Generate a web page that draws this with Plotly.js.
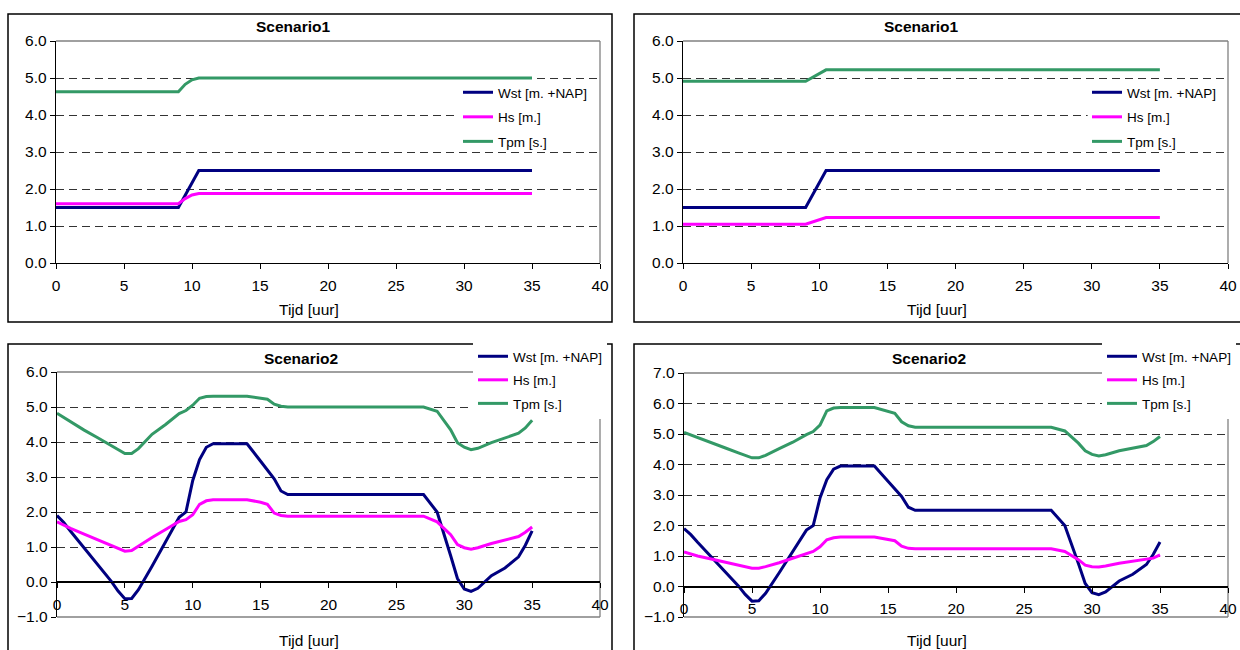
<!DOCTYPE html>
<html>
<head>
<meta charset="utf-8">
<script src="https://cdn.plot.ly/plotly-3.0.1.min.js"></script>
<style>html,body{margin:0;padding:0;background:#fff;}#chart{width:1240px;height:650px;}</style>
</head>
<body>
<div id="chart"></div>
<script>
// ---------- data ----------
const seriesNames = ['Wst [m. +NAP]', 'Hs [m.]', 'Tpm [s.]'];
const xTicks = [0, 5, 10, 15, 20, 25, 30, 35, 40];

// Scenario1 (left)
const hours1a = [0, 9, 9.5, 10, 10.5, 35];
const wst1a = [1.5, 1.5, 1.83, 2.17, 2.5, 2.5];
const hs1a = [1.6, 1.6, 1.74, 1.84, 1.88, 1.88];
const tpm1a = [4.63, 4.63, 4.83, 4.95, 5.0, 5.0];

// Scenario1 (right)
const hours1b = [0, 9, 10.5, 35];
const wst1b = [1.5, 1.5, 2.5, 2.5];
const hs1b = [1.05, 1.05, 1.23, 1.23];
const tpm1b = [4.91, 4.91, 5.22, 5.22];

// Scenario2 (both panels)
const hours2 = [0, 0.5, 1, 2, 3, 4, 4.5, 5, 5.5, 6, 7, 8, 9, 9.5, 10, 10.5, 11, 11.5, 14, 15,
                15.5, 16, 16.5, 17, 27, 28, 29, 29.5, 30, 30.5, 31, 32, 33, 34, 34.5, 35];
const wst2 = [1.9, 1.7, 1.45, 0.97, 0.5, 0.02, -0.26, -0.48, -0.47, -0.22, 0.45, 1.15, 1.85, 2.0, 2.9, 3.5, 3.85, 3.95, 3.95, 3.45,
              3.2, 2.95, 2.6, 2.5, 2.5, 2.0, 0.75, 0.1, -0.2, -0.27, -0.18, 0.18, 0.4, 0.72, 1.05, 1.46];
// Scenario2 (left)
const hs2a = [1.72, 1.62, 1.53, 1.37, 1.21, 1.05, 0.96, 0.88, 0.9, 1.03, 1.27, 1.5, 1.73, 1.78, 1.92, 2.22, 2.32, 2.35, 2.35, 2.28,
              2.22, 1.97, 1.9, 1.88, 1.88, 1.72, 1.35, 1.07, 0.98, 0.94, 0.98, 1.1, 1.2, 1.3, 1.42, 1.57];
const tpm2a = [4.82, 4.7, 4.57, 4.34, 4.12, 3.9, 3.78, 3.67, 3.67, 3.81, 4.22, 4.5, 4.81, 4.9, 5.05, 5.25, 5.3, 5.31, 5.31, 5.26,
               5.22, 5.08, 5.02, 5.0, 5.0, 4.88, 4.35, 3.98, 3.85, 3.78, 3.82, 3.98, 4.12, 4.25, 4.4, 4.62];
// Scenario2 (right)
const hs2b = [1.13, 1.06, 1.0, 0.9, 0.8, 0.7, 0.65, 0.6, 0.6, 0.65, 0.78, 0.93, 1.1, 1.15, 1.3, 1.53, 1.6, 1.62, 1.62, 1.55,
              1.5, 1.32, 1.25, 1.24, 1.24, 1.15, 0.88, 0.7, 0.65, 0.64, 0.67, 0.76, 0.82, 0.88, 0.93, 1.04];
const tpm2b = [5.05, 4.97, 4.88, 4.72, 4.55, 4.38, 4.3, 4.22, 4.22, 4.3, 4.52, 4.73, 4.98, 5.08, 5.29, 5.76, 5.85, 5.87, 5.87, 5.76,
               5.68, 5.4, 5.27, 5.22, 5.22, 5.1, 4.7, 4.45, 4.33, 4.28, 4.32, 4.45, 4.53, 4.62, 4.75, 4.92];

const titles = ['Scenario1', 'Scenario1', 'Scenario2', 'Scenario2'];
const xTitle = 'Tijd [uur]';

// ---------- styling ----------
const W = 1240, H = 650;
const px = v => v / W;
const py = v => 1 - v / H;
const colors = ['#000080', '#FF00FF', '#339966'];
const FONT = 'Liberation Sans, Arial, sans-serif';

// mask: [x0, x1, y0, y1] in axis units, drawn between grid and traces (legend area)
const panels = [
  {x: hours1a, ys: [wst1a, hs1a, tpm1a], ax: '', xd: [56, 600], yd: [263, 41], yr: [0, 6], legX: 458, legY: 77, gap: 4,
   legBg: 'rgba(0,0,0,0)', mask: [29.5, 39.85, 3.15, 4.7],
   frame: [8, 14, 612, 322], titleX: 293, titleY: 27, xtX: 309, xtY: 309},
  {x: hours1b, ys: [wst1b, hs1b, tpm1b], ax: '2', xd: [683, 1228], yd: [263, 41], yr: [0, 6], legX: 1087, legY: 77, gap: 4,
   legBg: 'rgba(0,0,0,0)', mask: [29.7, 39.85, 3.15, 4.7],
   frame: [634, 14, 1250, 322], titleX: 921, titleY: 27, xtX: 937, xtY: 309},
  {x: hours2, ys: [wst2, hs2a, tpm2a], ax: '3', xd: [57, 600], yd: [617, 372], yr: [-1, 6], legX: 473, legY: 341, gap: 3,
   legBg: '#fff', mask: null,
   frame: [8, 344, 612, 660], titleX: 301, titleY: 358, xtX: 309, xtY: 640},
  {x: hours2, ys: [wst2, hs2b, tpm2b], ax: '4', xd: [684, 1228], yd: [617, 373], yr: [-1, 7], legX: 1102, legY: 341, gap: 3,
   legBg: '#fff', mask: null,
   frame: [634, 344, 1250, 660], titleX: 929, titleY: 358, xtX: 937, xtY: 640}
];

const data = [];
const layout = {
  width: W, height: H,
  margin: {l: 0, r: 0, t: 0, b: 0},
  paper_bgcolor: '#fff', plot_bgcolor: 'rgba(0,0,0,0)',
  font: {family: FONT, size: 13, color: '#000'},
  showlegend: true,
  shapes: [], annotations: []
};

panels.forEach((p, i) => {
  const xa = 'x' + p.ax, ya = 'y' + p.ax;
  const legName = i === 0 ? 'legend' : 'legend' + (i + 1);
  p.ys.forEach((ys, k) => {
    data.push({
      type: 'scatter', mode: 'lines', x: p.x, y: ys, name: seriesNames[k],
      xaxis: xa, yaxis: ya, legend: legName, legendgroup: 'g' + i + '_' + k,
      line: {color: colors[k], width: 3},
      hoverinfo: 'x+y+name'
    });
  });
  const yTop = py(p.yd[1]), yBot = py(p.yd[0]);
  const zeroPix = p.yd[0] - (0 - p.yr[0]) / (p.yr[1] - p.yr[0]) * (p.yd[0] - p.yd[1]);
  const xKey = 'xaxis' + p.ax, yKey = 'yaxis' + p.ax;
  const xaxis = {
    domain: [px(p.xd[0]), px(p.xd[1])], range: [0, 40], tickvals: xTicks,
    ticks: 'outside', ticklen: 5, tickcolor: '#000', tickwidth: 1,
    showline: true, linecolor: '#000', linewidth: 1.3,
    showgrid: false, zeroline: false, fixedrange: true, ticklabelstandoff: 3,
    tickfont: {family: FONT, size: 15.5, color: '#000'}
  };
  if (p.yr[0] < 0) {
    xaxis.anchor = 'free';
    xaxis.position = py(zeroPix);
  } else {
    xaxis.anchor = ya;
  }
  layout[xKey] = xaxis;
  layout[yKey] = {
    domain: [yBot, yTop], range: p.yr, dtick: 1, tick0: 0, tickformat: '.1f', anchor: xa,
    ticks: 'outside', ticklen: 5, tickcolor: '#000', tickwidth: 1,
    showline: true, linecolor: '#000', linewidth: 1.3,
    showgrid: true, gridcolor: '#333', gridwidth: 1, griddash: '8px,5px',
    zeroline: p.yr[0] < 0, zerolinecolor: '#000', zerolinewidth: 1.2, fixedrange: true,
    tickfont: {family: FONT, size: 15.5, color: '#000'}
  };
  // plot-area border (top, right, bottom)
  const bl = {color: '#808080', width: 1.3};
  layout.shapes.push({type: 'line', xref: 'paper', yref: 'paper', x0: px(p.xd[0]), x1: px(p.xd[1]), y0: yTop, y1: yTop, line: bl, layer: 'below'});
  layout.shapes.push({type: 'line', xref: 'paper', yref: 'paper', x0: px(p.xd[1]), x1: px(p.xd[1]), y0: yBot, y1: yTop, line: bl, layer: 'below'});
  if (p.yr[0] < 0) {
    layout.shapes.push({type: 'line', xref: 'paper', yref: 'paper', x0: px(p.xd[0]), x1: px(p.xd[1]), y0: yBot, y1: yBot, line: bl, layer: 'below'});
  }
  // chart frame
  layout.shapes.push({type: 'rect', xref: 'paper', yref: 'paper',
    x0: px(p.frame[0]), x1: px(p.frame[2]), y0: py(p.frame[3]), y1: py(p.frame[1]),
    line: {color: '#000', width: 1.5}, layer: 'below'});
  // legend background mask (between gridlines and traces)
  if (p.mask) {
    layout.shapes.push({type: 'rect', xref: xa, yref: ya, x0: p.mask[0], x1: p.mask[1], y0: p.mask[2], y1: p.mask[3],
      fillcolor: '#fff', line: {width: 0}, layer: 'between'});
  }
  // legend
  layout[legName] = {
    x: px(p.legX), y: py(p.legY), xanchor: 'left', yanchor: 'top',
    bgcolor: p.legBg, borderwidth: 0, tracegroupgap: p.gap, traceorder: 'grouped',
    font: {family: FONT, size: 13.5, color: '#000'}, itemwidth: 30
  };
  // title
  layout.annotations.push({text: '<b>' + titles[i] + '</b>', xref: 'paper', yref: 'paper',
    x: px(p.titleX), y: py(p.titleY), xanchor: 'center', yanchor: 'middle', showarrow: false,
    font: {family: FONT, size: 15.5, color: '#000'}});
  layout.annotations.push({text: xTitle, xref: 'paper', yref: 'paper',
    x: px(p.xtX), y: py(p.xtY), xanchor: 'center', yanchor: 'middle', showarrow: false,
    font: {family: FONT, size: 15.5, color: '#000'}});
});

Plotly.newPlot('chart', data, layout, {displayModeBar: false, staticPlot: true});
</script>
</body>
</html>
